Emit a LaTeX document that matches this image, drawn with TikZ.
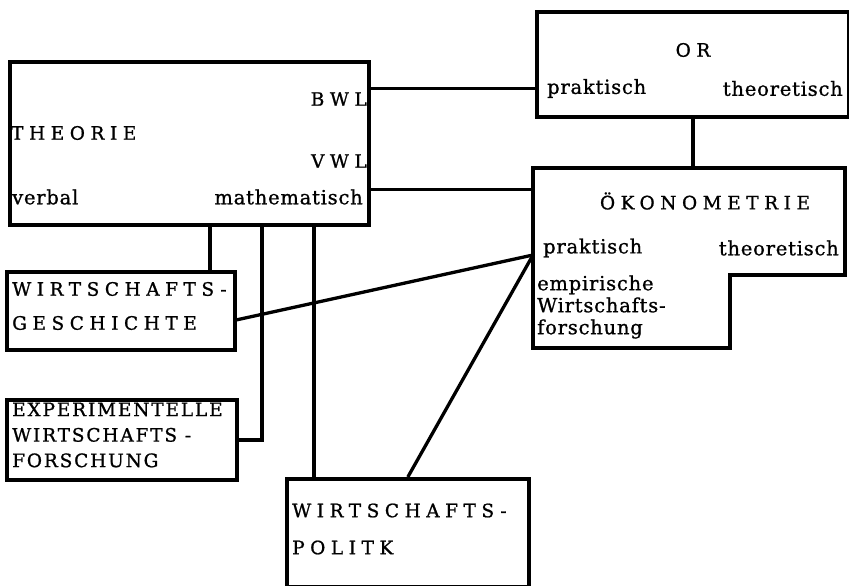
\documentclass[tikz,border=0pt]{standalone}
\usepackage{fontspec}
\setmainfont{DejaVu Serif}
\newfontfamily\typefont{DejaVu Serif}[FakeBold=1]
\usepackage{tikz}
\usetikzlibrary{positioning}

\tikzset{
  fieldbox/.style={draw,line width=3.7pt,anchor=north west,inner sep=0pt},
  lowtext/.style={font=\typefont\fontsize{19.5}{22}\selectfont\addfontfeature{LetterSpace=4},inner sep=0pt},
  captext/.style={font=\typefont\fontsize{18.5}{34}\selectfont\addfontfeature{LetterSpace=30},inner sep=0pt,align=left},
  capnarrow/.style={font=\typefont\fontsize{18.5}{25.5}\selectfont\addfontfeature{LetterSpace=10},inner sep=0pt,align=left},
  link/.style={line width=3.3pt}
}

\begin{document}
\begin{tikzpicture}[x=1pt,y=-1pt]
	\useasboundingbox (0,0) rectangle (849,586);
	% boxes
	\node[fieldbox,minimum width=359pt,minimum height=163pt] (theorie) at (8,60) {};
	\node[fieldbox,minimum width=312pt,minimum height=105pt] (or) at (535,10) {};
	\node[fieldbox,minimum width=228pt,minimum height=78pt] (gesch) at (5,270) {};
	\node[fieldbox,minimum width=230pt,minimum height=80pt] (exper) at (5,398) {};
	\node[fieldbox,minimum width=242pt,minimum height=108pt] (politik) at (285,477) {};
	% oekonometrie (L-shaped)
	\coordinate (o1) at (533,168);
	\coordinate (o2) at (845,168);
	\coordinate (o3) at (845,275);
	\coordinate (o4) at (730,275);
	\coordinate (o5) at (730,348);
	\coordinate (o6) at (533,348);
	\draw[line width=3.7pt,line join=miter] (o1) -- (o2) -- (o3) -- (o4) -- (o5) -- (o6) -- cycle;
	\coordinate (oekoW) at (533,189.5);
	\coordinate (oekoP) at (533,255);
	%
	% texts
	\node[captext,anchor=west] (theorieT) at (11,133) {THEORIE};
	\node[captext,anchor=east] (bwl) at (367,99) {BWL};
	\node[captext,anchor=east] (vwl) at (367,161) {VWL};
	\node[lowtext,anchor=west] (verbal) at (12,197) {verbal};
	\node[lowtext,anchor=east] (math) at (363,197) {mathematisch};
	\node[captext] (orT) at (693,50) {OR};
	\node[lowtext,anchor=west] (orprak) at (547,88.5) {praktisch};
	\node[lowtext,anchor=east] (ortheo) at (843,88.5) {theoretisch};
	\node[captext] (oekoT) at (705,201) {ÖKONOMETRIE};
	\node[lowtext,anchor=west] (oekoprak) at (543,248) {praktisch};
	\node[lowtext,anchor=east] (oekotheo) at (839,248) {theoretisch};
	\node[lowtext,anchor=west,align=left] (empir) at (537,307) {empirische\\Wirtschafts-\\forschung};
	\node[captext,anchor=west] (geschT) at (12,306) {WIRTSCHAFTS-\\GESCHICHTE};
	\node[capnarrow,anchor=west] (experT) at (12,435) {EXPERIMENTELLE\\WIRTSCHAFTS -\\FORSCHUNG};
	\node[captext,anchor=west,font=\typefont\fontsize{18.5}{37}\selectfont\addfontfeature{LetterSpace=30}] (politikT) at (292,529) {WIRTSCHAFTS-\\POLITK};
	%
	% connectors
	\draw[link] (theorie.east |- orprak) -- (or.west |- orprak);
	\draw[link] (theorie.east |- oekoW) -- (oekoW);
	\draw[link] (or.south) -- (or.south |- o1);
	\draw[link] ([xshift=89pt]gesch.north) -- ([xshift=89pt]gesch.north |- theorie.south);
	\draw[link] (exper.east) -| ([xshift=72.5pt]theorie.south);
	\draw[link] ([xshift=-94pt]politik.north) -- ([xshift=-94pt]politik.north |- theorie.south);
	\draw[link] ([yshift=-9pt]gesch.east) -- (oekoP);
	\draw[link] (politik.north) -- (oekoP);
\end{tikzpicture}
\end{document}
